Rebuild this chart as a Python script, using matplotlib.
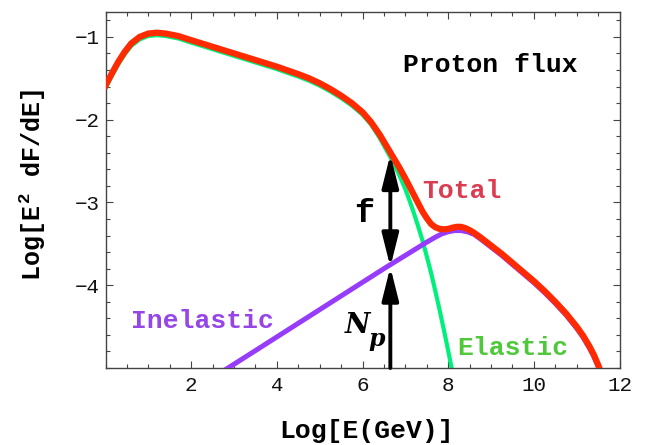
import matplotlib
matplotlib.use("Agg")
import matplotlib.pyplot as plt
from matplotlib.ticker import MultipleLocator, FixedLocator, FixedFormatter

# ---------------- data ----------------
total_x = [0.0, 0.15, 0.3, 0.45, 0.6, 0.8, 1.0, 1.2, 1.4, 1.7, 2.0, 2.5, 3.0, 3.5,
           4.0, 4.5, 4.75, 5.0, 5.25, 5.5, 5.75, 6.0, 6.2, 6.4, 6.55, 6.7, 6.85,
           7.0, 7.15, 7.3, 7.4, 7.5, 7.6, 7.7, 7.8, 7.9, 8.0, 8.1, 8.2, 8.3, 8.4,
           8.5, 8.6, 8.75, 9.0, 9.25, 9.5, 9.75, 10.0, 10.25, 10.5, 10.75, 11.0,
           11.15, 11.3, 11.4, 11.5, 11.58]
total_y = [-1.59, -1.44, -1.30, -1.18, -1.08, -1.00, -0.96, -0.95, -0.96, -0.99,
           -1.04, -1.12, -1.20, -1.28, -1.36, -1.45, -1.50, -1.56, -1.63, -1.71,
           -1.80, -1.91, -2.03, -2.18, -2.31, -2.44, -2.57, -2.71, -2.86, -3.01,
           -3.11, -3.19, -3.26, -3.30, -3.32, -3.325, -3.32, -3.305, -3.295, -3.295,
           -3.31, -3.335, -3.365, -3.42, -3.52, -3.62, -3.73, -3.84, -3.95, -4.07,
           -4.20, -4.34, -4.50, -4.61, -4.74, -4.84, -4.96, -5.07]

elastic_x = [0.0, 0.15, 0.3, 0.45, 0.6, 0.8, 1.0, 1.2, 1.4, 1.7, 2.0, 2.5, 3.0,
             3.5, 4.0, 4.5, 4.75, 5.0, 5.25, 5.5, 5.75, 6.0, 6.2, 6.4, 6.55, 6.7,
             6.85, 7.0, 7.1, 7.2, 7.3, 7.4, 7.5, 7.6, 7.7, 7.8, 7.9, 8.0, 8.08, 8.12]
elastic_y = [-1.62, -1.47, -1.33, -1.21, -1.11, -1.03, -0.99, -0.98, -0.99, -1.02,
             -1.07, -1.15, -1.23, -1.31, -1.39, -1.48, -1.53, -1.59, -1.66, -1.74,
             -1.83, -1.94, -2.06, -2.22, -2.36, -2.50, -2.66, -2.84, -2.98, -3.13,
             -3.29, -3.46, -3.65, -3.85, -4.07, -4.30, -4.54, -4.79, -5.00, -5.10]

inelastic_x = [2.8, 3.5, 4.5, 5.5, 6.5, 7.0, 7.5, 7.7, 7.85, 8.0, 8.15, 8.3, 8.45,
               8.6, 8.75, 9.0, 9.25, 9.5, 9.75, 10.0, 10.25, 10.5, 10.75, 11.0,
               11.15, 11.3, 11.4, 11.5, 11.58]
inelastic_y = [-5.02, -4.79, -4.46, -4.13, -3.80, -3.64, -3.48, -3.42, -3.38, -3.355,
               -3.34, -3.34, -3.355, -3.385, -3.44, -3.54, -3.64, -3.75, -3.86, -3.97,
               -4.09, -4.22, -4.36, -4.52, -4.63, -4.76, -4.86, -4.98, -5.09]

# f / N_p arrows at this energy
arrow_x = 6.65
arrow_top = -2.42
arrow_mid = -3.78
arrow_bottom = -5.0

x_ticks = [2, 4, 6, 8, 10, 12]
x_tick_labels = ["2", "4", "6", "8", "10", "12"]
y_ticks = [-4, -3, -2, -1]
y_tick_labels = ["\u22124", "\u22123", "\u22122", "\u22121"]

# ---------------- styling ----------------
MONO = "Liberation Mono"
plt.rcParams["mathtext.fontset"] = "custom"
plt.rcParams["mathtext.rm"] = "Liberation Mono:bold"
plt.rcParams["mathtext.bf"] = "Liberation Mono:bold"
plt.rcParams["mathtext.it"] = "Liberation Mono:bold"

RED = "#FF2A00"
GREEN = "#00F07C"
PURPLE = "#963CFA"
SPINE = "#444444"

W, H = 646, 445
fig = plt.figure(figsize=(W / 100, H / 100), dpi=100)
ax = fig.add_axes([105.5 / W, 1 - 368 / H, 514 / W, 356 / H])

ax.plot(elastic_x, elastic_y, color=GREEN, lw=3.0, solid_joinstyle="round", zorder=2)
ax.plot(inelastic_x, inelastic_y, color=PURPLE, lw=3.6, solid_joinstyle="round", zorder=3)
ax.plot(total_x, total_y, color=RED, lw=4.5, solid_joinstyle="round", zorder=4)

ax.set_xlim(0, 12)
ax.set_ylim(-5, -0.7)

ax.xaxis.set_major_locator(FixedLocator(x_ticks))
ax.xaxis.set_major_formatter(FixedFormatter(x_tick_labels))
ax.yaxis.set_major_locator(FixedLocator(y_ticks))
ax.yaxis.set_major_formatter(FixedFormatter(y_tick_labels))
ax.xaxis.set_minor_locator(MultipleLocator(0.5))
ax.yaxis.set_minor_locator(MultipleLocator(0.2))

ax.tick_params(which="both", direction="in", top=True, right=True, color=SPINE, width=0.8)
ax.tick_params(which="major", length=5)
ax.tick_params(which="minor", length=2.8)
ax.tick_params(axis="x", which="major", pad=6)
ax.tick_params(axis="y", which="major", pad=4)
for lab in ax.get_xticklabels() + ax.get_yticklabels():
    lab.set_fontfamily(MONO)
    lab.set_fontsize(15)
    lab.set_color("#111111")
for s in ax.spines.values():
    s.set_color(SPINE)
    s.set_linewidth(1.0)

# arrows
head = "head_length=2.0,head_width=0.5"
ax.annotate("", xy=(arrow_x, arrow_top), xytext=(arrow_x, arrow_mid),
            arrowprops=dict(arrowstyle="<|-|>," + head, color="black", lw=2.8,
                            shrinkA=0, shrinkB=0, mutation_scale=10),
            zorder=6)
ax.annotate("", xy=(arrow_x, arrow_mid), xytext=(arrow_x, arrow_bottom),
            arrowprops=dict(arrowstyle="-|>," + head, color="black", lw=2.8,
                            shrinkA=0, shrinkB=0, mutation_scale=10),
            zorder=6)

# labels inside plot
ax.text(8.98, -1.423, "Proton flux", family=MONO, weight="bold", fontsize=19,
        color="black", ha="center", va="baseline")
ax.text(8.32, -2.947, "Total", family=MONO, weight="bold", fontsize=19,
        color="#DC3C50", ha="center", va="baseline")
ax.text(2.26, -4.52, "Inelastic", family=MONO, weight="bold", fontsize=19,
        color="#9646E6", ha="center", va="baseline")
ax.text(9.51, -4.845, "Elastic", family=MONO, weight="bold", fontsize=19,
        color="#50C83C", ha="center", va="baseline")
ax.text(6.04, -3.24, "f", family=MONO, weight="bold", fontsize=24,
        color="black", ha="center", va="baseline")
ax.text(5.87, -4.58, "N", family="DejaVu Serif", weight="bold", style="italic",
        fontsize=20, color="black", ha="center", va="baseline")
ax.text(6.32, -4.73, "p", family="DejaVu Serif", weight="bold", style="italic",
        fontsize=17, color="black", ha="center", va="baseline")

# axis labels
fig.text(367 / W, 1 - 438 / H, "Log[E(GeV)]", family=MONO, weight="bold",
         fontsize=19, ha="center", va="baseline")
fig.text(33 / W, 1 - 185 / H, r"Log[E$^{\,2\,}$ dF/dE]", family=MONO, weight="bold",
         fontsize=18, rotation=90, ha="center", va="center")

fig.savefig("out.png", dpi=100)
